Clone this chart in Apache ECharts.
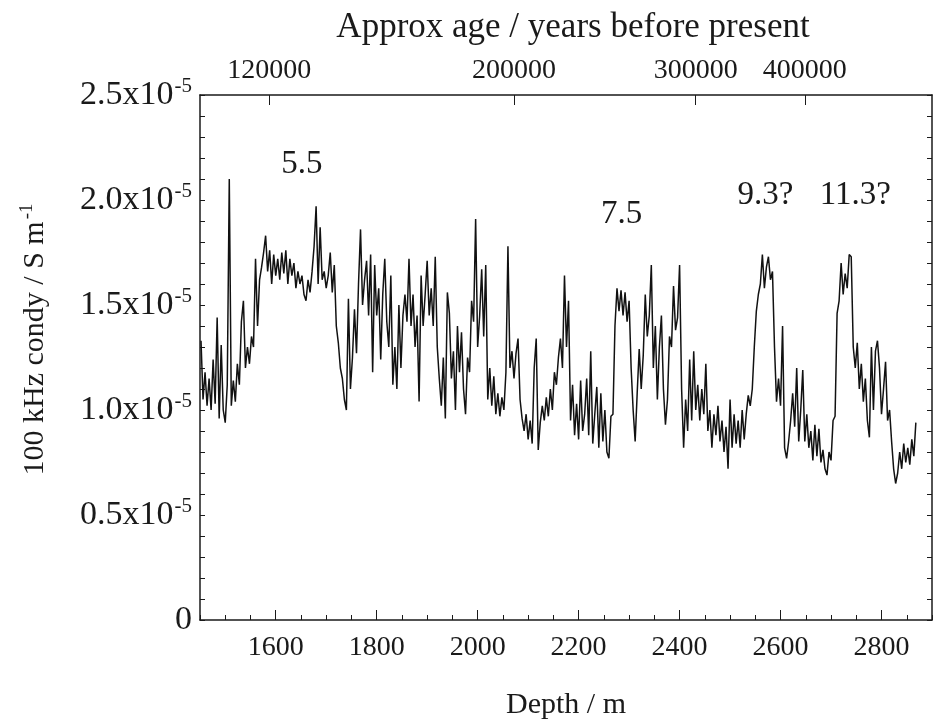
<!DOCTYPE html>
<html>
<head>
<meta charset="utf-8">
<script src="https://cdn.jsdelivr.net/npm/echarts@6/dist/echarts.min.js"></script>
<style>html,body{margin:0;padding:0;background:#fff}#c{width:940px;height:725px}</style>
</head>
<body>
<div id="c"></div>
<script>
// Depth sampling grid (m) and conductivity values (units of 1e-5 S/m)
const depthStart = 1452;
const depthStep = 4;
const conductivity = [
  1.33,1.05,1.18,1.02,1.15,1.00,1.24,1.03,1.44,0.96,
  1.31,1.00,0.94,1.12,2.10,1.02,1.14,1.04,1.22,1.12,
  1.42,1.52,1.20,1.30,1.22,1.35,1.30,1.72,1.40,1.62,
  1.68,1.75,1.83,1.66,1.76,1.60,1.74,1.64,1.72,1.62,
  1.75,1.65,1.76,1.60,1.72,1.64,1.70,1.58,1.66,1.60,
  1.64,1.55,1.52,1.62,1.56,1.66,1.78,1.97,1.60,1.87,
  1.62,1.66,1.58,1.64,1.75,1.56,1.69,1.40,1.32,1.20,
  1.15,1.05,1.00,1.53,1.10,1.25,1.48,1.27,1.60,1.86,
  1.50,1.62,1.71,1.45,1.74,1.18,1.69,1.45,1.58,1.24,
  1.55,1.72,1.42,1.30,1.64,1.12,1.30,1.10,1.50,1.20,
  1.45,1.55,1.42,1.72,1.40,1.55,1.30,1.45,1.04,1.64,
  1.40,1.55,1.71,1.45,1.58,1.40,1.73,1.30,1.15,1.02,
  1.25,0.96,1.56,1.46,1.15,1.28,1.00,1.40,1.18,1.37,
  1.10,0.98,1.25,1.18,1.52,1.42,1.91,1.30,1.45,1.67,
  1.35,1.69,1.05,1.20,1.02,1.16,0.98,1.08,0.97,1.06,
  1.00,1.18,1.78,1.20,1.28,1.15,1.27,1.34,1.05,0.96,
  0.90,0.98,0.86,0.95,0.84,1.20,1.34,0.81,0.94,1.02,
  0.95,1.06,0.97,1.10,1.00,1.18,1.12,1.25,1.34,1.20,
  1.64,1.30,1.52,0.95,1.12,0.88,1.03,0.86,1.14,0.90,
  0.98,1.15,0.88,1.28,0.84,0.98,1.11,0.82,1.08,0.85,
  1.00,0.80,0.77,0.97,0.98,1.40,1.58,1.47,1.57,1.45,
  1.56,1.42,1.52,1.20,1.00,0.85,1.08,1.29,1.10,1.26,
  1.55,1.35,1.45,1.69,1.20,1.40,1.05,1.30,1.45,1.10,
  0.93,1.05,1.35,1.30,1.59,1.38,1.44,1.69,1.10,0.82,
  1.05,0.90,1.24,0.95,1.28,1.00,1.12,0.95,1.10,0.98,
  1.22,0.90,1.00,0.82,0.98,0.88,1.02,0.85,0.95,0.80,
  0.92,0.72,1.05,0.82,0.98,0.84,0.95,0.82,1.00,0.86,
  0.98,1.07,1.02,1.10,1.30,1.47,1.55,1.60,1.74,1.58,
  1.68,1.73,1.62,1.66,1.30,1.04,1.15,1.02,1.40,0.82,
  0.77,0.85,0.95,1.08,0.92,1.20,0.85,1.00,1.19,0.85,
  0.98,0.82,0.90,0.76,0.93,0.78,0.91,0.75,0.81,0.72,
  0.69,0.80,0.76,0.95,0.97,1.46,1.52,1.70,1.55,1.65,
  1.58,1.74,1.73,1.30,1.20,1.32,1.10,1.22,1.04,1.15,
  0.95,0.87,1.30,1.00,1.28,1.33,1.20,0.98,1.10,1.23,
  0.95,1.00,0.85,0.72,0.65,0.70,0.80,0.72,0.84,0.75,
  0.82,0.74,0.86,0.78,0.94
];
// Axis ticks
const depthMin = 1450, depthMax = 2900;
const depthMajorTicks = [1600, 1800, 2000, 2200, 2400, 2600, 2800];
const ageTickDepths = [1587, 2072, 2432, 2648];
const ageTickLabels = ['120000', '200000', '300000', '400000'];
// Annotations (marine isotope stages)
const stageLabels = ['5.5', '7.5', '9.3?', '11.3?'];
const stageDepths = [1652, 2285, 2570, 2748];
const stageValues = [2.17, 1.93, 2.02, 2.02];

const FONT = 'Liberation Serif';
const INK = '#1a1a1a';
const seriesData = conductivity.map((v, i) => [depthStart + i * depthStep, v]);

const chart = echarts.init(document.getElementById('c'), null, {renderer: 'canvas'});
chart.setOption({
  backgroundColor: '#ffffff',
  animation: false,
  grid: {left: 200, right: 8, top: 95, bottom: 103},
  xAxis: [
    {
      type: 'value', position: 'bottom', min: depthMin, max: depthMax,
      name: 'Depth / m', nameLocation: 'middle', nameGap: 70,
      nameTextStyle: {fontFamily: FONT, fontSize: 30, color: INK},
      axisLine: {show: true, onZero: false, lineStyle: {color: INK, width: 1.5}},
      axisTick: {show: true, inside: true, length: 10, customValues: depthMajorTicks, lineStyle: {color: INK, width: 1}},
      axisLabel: {show: true, customValues: depthMajorTicks, margin: 14, fontFamily: FONT, fontSize: 28, color: INK,
        formatter: function (v) { return String(v); }},
      splitLine: {show: false}
    },
    {
      type: 'value', position: 'bottom', min: depthMin, max: depthMax, interval: 50,
      axisLine: {show: false},
      axisTick: {show: true, inside: true, length: 5, lineStyle: {color: INK, width: 1}},
      axisLabel: {show: false},
      splitLine: {show: false}
    },
    {
      type: 'value', position: 'top', min: depthMin, max: depthMax,
      name: 'Approx age / years before present', nameLocation: 'middle', nameGap: 50,
      nameTextStyle: {fontFamily: FONT, fontSize: 35, color: INK, padding: [0, 0, 0, 14]},
      axisLine: {show: true, onZero: false, lineStyle: {color: INK, width: 1.5}},
      axisTick: {show: true, inside: true, length: 10, customValues: ageTickDepths, lineStyle: {color: INK, width: 1}},
      axisLabel: {show: true, customValues: ageTickDepths, margin: 10, fontFamily: FONT, fontSize: 28, color: INK,
        formatter: function (v) { const i = ageTickDepths.indexOf(v); return i >= 0 ? ageTickLabels[i] : ''; }},
      splitLine: {show: false}
    }
  ],
  yAxis: [
    {
      type: 'value', position: 'left', min: 0, max: 2.5, interval: 0.5,
      name: '{a|100 kHz condy / S m}{b|-1}', nameLocation: 'middle', nameGap: 148, nameRotate: 90,
      nameTextStyle: {fontFamily: FONT, fontSize: 30, color: INK, padding: [0, 0, 0, 36],
        rich: {a: {fontFamily: FONT, fontSize: 30, color: INK, lineHeight: 34},
               b: {fontFamily: FONT, fontSize: 19, color: INK, verticalAlign: 'top', lineHeight: 34, padding: [0, 0, 14, 2]}}},
      axisLine: {show: true, onZero: false, lineStyle: {color: INK, width: 1.5}},
      axisTick: {show: true, inside: true, length: 5, lineStyle: {color: INK}},
      minorTick: {show: true, splitNumber: 5, length: 5, lineStyle: {color: INK}},
      splitLine: {show: false},
      axisLabel: {
        margin: 8, fontFamily: FONT, fontSize: 34, color: INK,
        formatter: function (v) {
          if (v === 0) return '{a|0}';
          return '{a|' + v.toFixed(1) + 'x10}{b|-5}';
        },
        rich: {
          a: {fontFamily: FONT, fontSize: 34, color: INK, lineHeight: 38},
          b: {fontFamily: FONT, fontSize: 21, color: INK, verticalAlign: 'top', lineHeight: 38, padding: [0, 0, 15, 1]}
        }
      }
    },
    {
      type: 'value', position: 'right', min: 0, max: 2.5, interval: 0.5,
      axisLine: {show: true, onZero: false, lineStyle: {color: INK, width: 1.5}},
      axisTick: {show: true, inside: true, length: 5, lineStyle: {color: INK}},
      minorTick: {show: true, splitNumber: 5, length: 5, lineStyle: {color: INK}},
      axisLabel: {show: false},
      splitLine: {show: false}
    }
  ],
  series: [{
    type: 'line',
    xAxisIndex: 0, yAxisIndex: 0,
    data: seriesData,
    showSymbol: false, symbol: 'none',
    lineStyle: {color: '#111111', width: 1.5},
    silent: true,
    markPoint: {
      symbol: 'circle', symbolSize: 0, silent: true,
      label: {show: true, position: 'inside', fontFamily: FONT, fontSize: 33, color: INK,
        formatter: function (p) { return p.name; }},
      data: stageLabels.map((t, i) => ({name: t, coord: [stageDepths[i], stageValues[i]]}))
    }
  }]
});
</script>
</body>
</html>
